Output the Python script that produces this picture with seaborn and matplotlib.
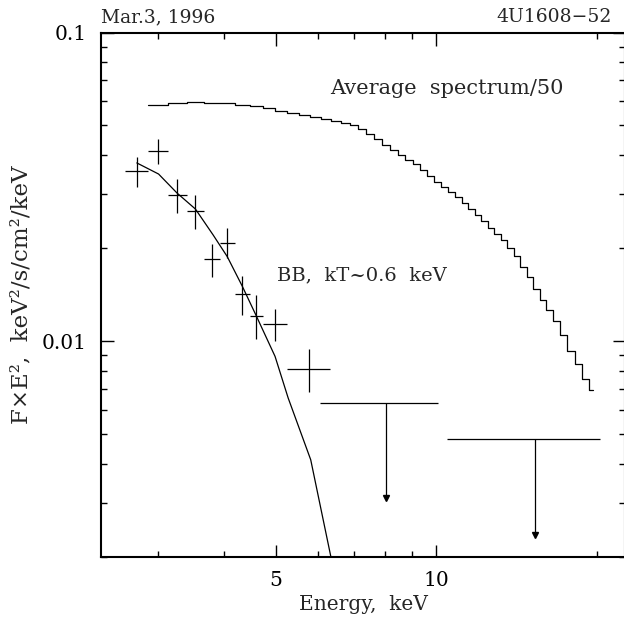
import numpy as np
import pandas as pd
import matplotlib
matplotlib.use("Agg")
import matplotlib.pyplot as plt
from matplotlib.ticker import FixedLocator, FixedFormatter, NullFormatter
import seaborn as sns

# Binned source spectrum (keV; keV^2/s/cm^2/keV)
e_lo = [2.60, 2.87, 3.13, 3.40, 3.66, 3.93, 4.19, 4.46, 4.72, 5.25]
e_hi = [2.87, 3.13, 3.40, 3.66, 3.93, 4.19, 4.46, 4.72, 5.25, 6.31]
e_mid = [2.74, 3.00, 3.26, 3.53, 3.80, 4.05, 4.32, 4.59, 4.98, 5.77]
flux = [0.0355, 0.0413, 0.0298, 0.0265, 0.0185, 0.0208, 0.0142, 0.0121, 0.0114, 0.0081]
flux_lo = [0.0315, 0.0376, 0.0260, 0.0231, 0.0161, 0.0186, 0.0122, 0.0102, 0.0100, 0.00685]
flux_hi = [0.0395, 0.0453, 0.0335, 0.0298, 0.0207, 0.0232, 0.0163, 0.0141, 0.0127, 0.00946]

# 2-sigma upper limits at high energies
ul_lo = [6.06, 10.45]
ul_hi = [10.05, 20.27]
ul_mid = [8.05, 15.35]
ul_val = [0.00632, 0.00483]
ul_tip = [0.00311, 0.00236]

# Blackbody model, kT ~ 0.6 keV
bb_e = [2.74, 3.01, 3.26, 3.53, 3.81, 4.05, 4.32, 4.59, 4.98, 5.27, 5.81, 6.34]
bb_f = [0.0378, 0.0348, 0.0302, 0.0268, 0.0221, 0.0188, 0.0151, 0.0121, 0.00893, 0.00655, 0.00413, 0.0020]

# Average persistent spectrum divided by 50 (channel left edges and levels)
avg_left = [2.87, 3.13, 3.40, 3.66, 3.93, 4.19, 4.46, 4.72, 4.98, 5.25, 5.52, 5.79,
            6.07, 6.34, 6.61, 6.88, 7.13, 7.39, 7.65, 7.92, 8.19, 8.47, 8.75, 9.03,
            9.32, 9.62, 9.91, 10.22, 10.52, 10.83, 11.15, 11.47, 11.81, 12.14, 12.49,
            12.85, 13.21, 13.59, 13.98, 14.38, 14.79, 15.21, 15.64, 16.08, 16.54,
            17.05, 17.60, 18.19, 18.80, 19.35]
avg_end = 19.69
avg_val = [0.0583, 0.0591, 0.0597, 0.0593, 0.0589, 0.0583, 0.0576, 0.0569, 0.0558,
           0.0548, 0.0539, 0.0531, 0.0524, 0.0518, 0.0510, 0.0501, 0.0488, 0.0470,
           0.0453, 0.0433, 0.0417, 0.0402, 0.0387, 0.0374, 0.0359, 0.0344, 0.0329,
           0.0315, 0.0304, 0.0293, 0.0281, 0.0269, 0.0257, 0.0246, 0.0233, 0.0222,
           0.0212, 0.0201, 0.0189, 0.0174, 0.0161, 0.0148, 0.0136, 0.0126, 0.0116,
           0.0105, 0.00927, 0.00846, 0.00754, 0.00695]

sns.set_theme(style="ticks")
plt.rcParams["font.family"] = ["DejaVu Serif"]
plt.rcParams["mathtext.fontset"] = "dejavuserif"

fig = plt.figure(figsize=(6.24, 6.17), dpi=100)
ax = fig.add_axes([101 / 624, 1 - 557 / 617, 524 / 624, 524.5 / 617])

lw = 0.9
# data crosses
ax.errorbar(e_mid, flux,
            xerr=[np.subtract(e_mid, e_lo), np.subtract(e_hi, e_mid)],
            yerr=[np.subtract(flux, flux_lo), np.subtract(flux_hi, flux)],
            fmt="none", ecolor="black", elinewidth=lw, capsize=0)

# upper limits: horizontal bar with downward arrow
ax.hlines(ul_val, ul_lo, ul_hi, color="black", lw=lw)
ax.vlines(ul_mid, ul_tip, ul_val, color="black", lw=lw)
ax.plot(ul_mid, ul_tip, linestyle="none", marker="v", color="black", markersize=4.5)

# blackbody model
bb = pd.DataFrame({"E": bb_e, "F": bb_f})
sns.lineplot(data=bb, x="E", y="F", ax=ax, color="black", lw=lw, sort=False)

# average spectrum as a histogram
steps = pd.DataFrame({"E": avg_left + [avg_end], "F": avg_val + [avg_val[-1]]})
sns.lineplot(data=steps, x="E", y="F", ax=ax, color="black", lw=lw,
             drawstyle="steps-post", sort=False)

ax.set_xscale("log")
ax.set_yscale("log")
ax.set_xlim(2.347, 22.6)
ax.set_ylim(0.002, 0.1)

ax.xaxis.set_major_locator(FixedLocator([5, 10]))
ax.xaxis.set_major_formatter(FixedFormatter(["5", "10"]))
ax.xaxis.set_minor_locator(FixedLocator([3, 4, 6, 7, 8, 9, 20]))
ax.xaxis.set_minor_formatter(NullFormatter())
ax.yaxis.set_major_locator(FixedLocator([0.01, 0.1]))
ax.yaxis.set_major_formatter(FixedFormatter(["0.01", "0.1"]))
ax.yaxis.set_minor_locator(FixedLocator([0.002, 0.003, 0.004, 0.005, 0.006, 0.007, 0.008, 0.009,
                                         0.02, 0.03, 0.04, 0.05, 0.06, 0.07, 0.08, 0.09]))
ax.yaxis.set_minor_formatter(NullFormatter())

ax.tick_params(which="both", direction="in", top=True, right=True, colors="black",
               labelsize=14.5, width=1.0)
ax.tick_params(which="major", length=9, pad=10)
ax.tick_params(which="minor", length=4.5)
for s in ax.spines.values():
    s.set_linewidth(1.5)
    s.set_color("black")

ax.set_xlabel("Energy,  keV", fontsize=14.5, labelpad=4)
ax.set_ylabel("F×E²,  keV²/s/cm²/keV", fontsize=16.5)
ax.yaxis.set_label_coords(-0.13, 0.5)

ax.text(6.31, 0.0633, "Average  spectrum/50", fontsize=15, ha="left", va="baseline")
ax.text(5.02, 0.0157, "BB,  kT~0.6  keV", fontsize=14, ha="left", va="baseline")

fig.text(101 / 624, 1 - 22 / 617, "Mar.3, 1996", fontsize=13.5, ha="left", va="baseline")
fig.text(612 / 624, 1 - 22 / 617, "4U1608−52", fontsize=13.5, ha="right", va="baseline")

fig.savefig("out.png", dpi=100)
